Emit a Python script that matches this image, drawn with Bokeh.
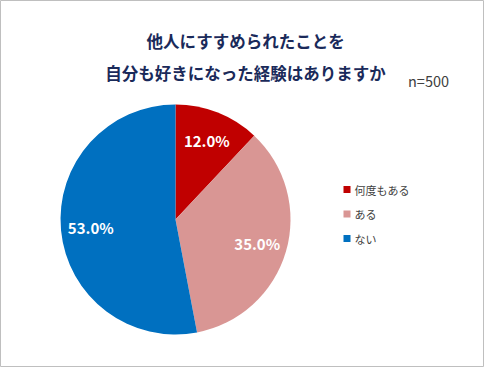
import numpy as np
from bokeh.plotting import figure
from bokeh.models import Range1d, ColumnDataSource
from bokeh.core.properties import value
from bokeh.embed import file_html
from bokeh.resources import INLINE

# ---- data ----
categories = ["何度もある", "ある", "ない"]
shares = [12.0, 35.0, 53.0]
colors = ["#C00000", "#D99694", "#0070C0"]
title_lines = ["他人にすすめられたことを", "自分も好きになった経験はありますか"]
note = "n=500"

# ---- layout ----
W, H = 484, 367
FONT = "Noto Sans CJK JP"
cx, cy, R = 175, 148, 115

p = figure(width=W, height=H, output_backend="svg", toolbar_location=None,
           x_range=Range1d(0, W), y_range=Range1d(0, H), min_border=0)
p.axis.visible = False
p.grid.visible = False
p.outline_line_color = "#BFBFBF"
p.outline_line_width = 1
p.background_fill_color = "white"
p.border_fill_color = "white"

# pie wedges (clockwise from 12 o'clock)
fr = np.array(shares) / sum(shares)
cum = np.concatenate([[0], np.cumsum(fr)])
start = np.pi / 2 - cum[:-1] * 2 * np.pi
end = np.pi / 2 - cum[1:] * 2 * np.pi
mid = (start + end) / 2
src = ColumnDataSource(dict(start=start, end=end, color=colors,
                            lx=cx + 0.74 * R * np.cos(mid),
                            ly=cy + 0.74 * R * np.sin(mid),
                            lab=[f"{s:.1f}%" for s in shares]))
p.wedge(x=cx, y=cy, radius=R, start_angle="start", end_angle="end",
        direction="clock", fill_color="color", line_color=None, source=src)
p.text(x="lx", y="ly", text="lab", source=src, text_color="white",
       text_font=value(FONT), text_font_style="bold", text_font_size="15px",
       text_align="center", text_baseline="middle")

# title
p.text(x=[245, 245], y=[327, 295], text=title_lines, text_color="#1A2A5A",
       text_font=value(FONT), text_font_style="bold", text_font_size="16.5px",
       text_align="center", text_baseline="middle")
p.text(x=[428], y=[287], text=[note], text_color="#404040",
       text_font=value(FONT), text_font_size="14.5px",
       text_align="center", text_baseline="middle")

# legend
ly = [178 - 24.5 * i for i in range(len(categories))]
p.scatter(x=[346.5] * len(categories), y=ly, marker="square", size=7,
          fill_color=colors, line_color=None)
p.text(x=[354] * len(categories), y=ly, text=categories, text_color="#404040",
       text_font=value(FONT), text_font_size="11px",
       text_align="left", text_baseline="middle")

open("out.html", "w").write(file_html(p, INLINE))
